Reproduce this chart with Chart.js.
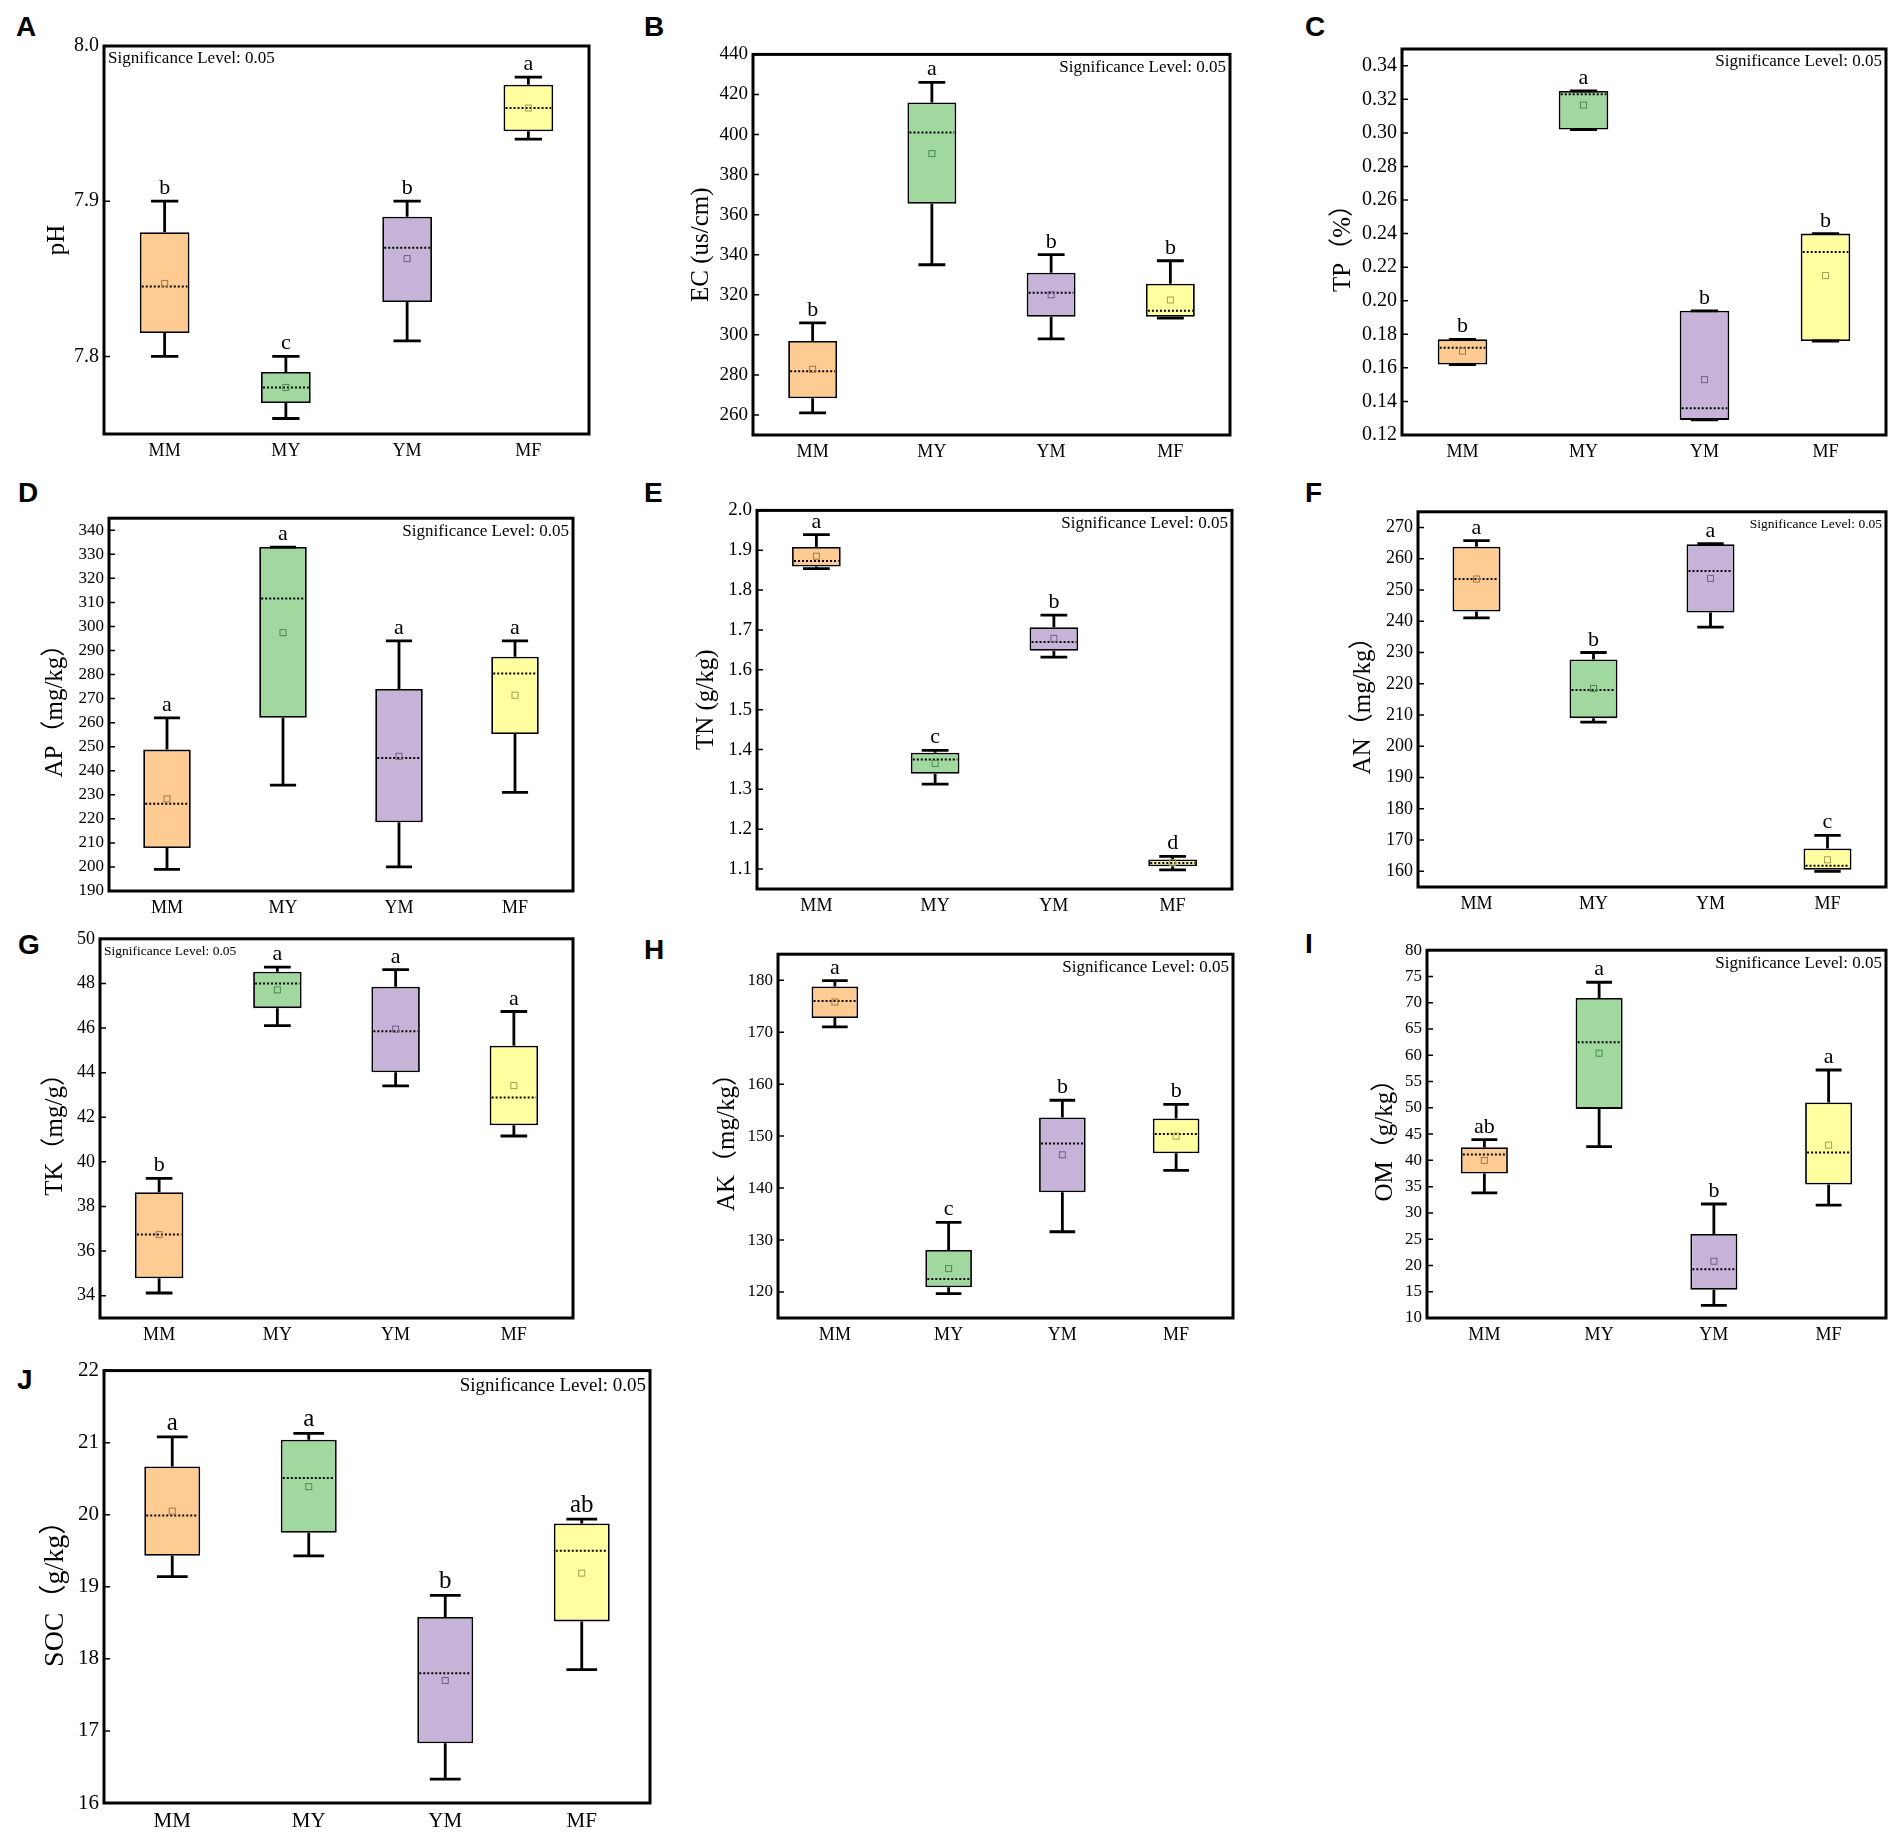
<!DOCTYPE html>
<html>
<head>
<meta charset="utf-8">
<script src="https://cdn.jsdelivr.net/npm/chart.js@4.4.0/dist/chart.umd.min.js"></script>
<style>
  html, body { margin: 0; padding: 0; background: #fff; overflow: hidden; }
  #page { position: relative; width: 1889px; height: 1833px; background: #fff; }
  .panel { position: absolute; }
  .tag { position: absolute; font: bold 28px "Liberation Sans", Arial, sans-serif; line-height: 28px; color: #000; }
</style>
</head>
<body>
<div id="page"></div>
<script>
// groups on the x axis
const groups = ['MM', 'MY', 'YM', 'MF'];

// each row: [whisker low, Q1, median, Q3, whisker high, mean]
const phStats  = [[7.80, 7.815, 7.845, 7.88, 7.90, 7.847], [7.76, 7.77, 7.78, 7.79, 7.80, 7.78], [7.81, 7.835, 7.87, 7.89, 7.90, 7.863], [7.94, 7.945, 7.96, 7.975, 7.98, 7.96]];
const ecStats  = [[261, 268.3, 281.8, 296.9, 306, 282.8], [335, 365.5, 401, 416, 426, 390.5], [298, 309, 321, 331, 340, 320], [308.3, 309, 312, 325.5, 337, 317.4]];
const tpStats  = [[0.162, 0.162, 0.172, 0.177, 0.177, 0.170], [0.302, 0.302, 0.323, 0.325, 0.325, 0.3166], [0.129, 0.129, 0.136, 0.194, 0.194, 0.153], [0.176, 0.176, 0.229, 0.240, 0.240, 0.215]];
const apStats  = [[199, 207.9, 226.3, 248.8, 262, 228.3], [234, 262, 311.6, 333, 333, 297.4], [200, 218.6, 245.3, 274, 294, 246], [231, 255.3, 280.4, 287.4, 294, 271.4]];
const tnStats  = [[1.854, 1.859, 1.873, 1.908, 1.939, 1.885], [1.313, 1.339, 1.375, 1.392, 1.398, 1.365], [1.632, 1.648, 1.670, 1.707, 1.737, 1.679], [1.098, 1.107, 1.115, 1.124, 1.132, 1.116]];
const anStats  = [[241.1, 243.1, 253.5, 263.8, 265.8, 253.5], [207.7, 209, 218, 227.8, 230, 218.5], [238.1, 242.8, 256.1, 264.6, 264.8, 253.7], [160, 160.5, 161.8, 167.3, 171.5, 163.7]];
const tkStats  = [[34.12, 34.78, 36.74, 38.64, 39.26, 36.74], [46.11, 46.89, 48.0, 48.52, 48.73, 47.71], [43.41, 44.02, 45.86, 47.85, 48.62, 45.95], [41.16, 41.64, 42.89, 45.21, 46.74, 43.42]];
const akStats  = [[171.0, 172.7, 176.0, 178.8, 179.9, 175.8], [119.7, 120.9, 122.5, 128.1, 133.4, 124.5], [131.6, 139.2, 148.6, 153.6, 156.9, 146.4], [143.4, 146.7, 150.4, 153.4, 156.1, 150.0]];
const omStats  = [[33.8, 37.5, 41.1, 42.5, 43.95, 40.0], [42.6, 49.8, 62.5, 70.9, 73.9, 60.4], [12.4, 15.4, 19.3, 26.0, 31.7, 20.8], [31.5, 35.4, 41.5, 51.0, 57.2, 42.9]];
const socStats = [[19.14, 19.43, 19.99, 20.67, 21.08, 20.05], [19.43, 19.75, 20.51, 21.04, 21.13, 20.39], [16.33, 16.83, 17.80, 18.58, 18.88, 17.70], [17.85, 18.52, 19.50, 19.88, 19.94, 19.19]];

// significance letters
const phLetters  = ['b', 'c', 'b', 'a'];
const ecLetters  = ['b', 'a', 'b', 'b'];
const tpLetters  = ['b', 'a', 'b', 'b'];
const apLetters  = ['a', 'a', 'a', 'a'];
const tnLetters  = ['a', 'c', 'b', 'd'];
const anLetters  = ['a', 'b', 'a', 'c'];
const tkLetters  = ['b', 'a', 'a', 'a'];
const akLetters  = ['a', 'c', 'b', 'b'];
const omLetters  = ['ab', 'a', 'b', 'a'];
const socLetters = ['a', 'a', 'b', 'ab'];

// y tick labels
const phTicks  = [7.8, 7.9, 8.0];
const ecTicks  = [260, 280, 300, 320, 340, 360, 380, 400, 420, 440];
const tpTicks  = [0.12, 0.14, 0.16, 0.18, 0.20, 0.22, 0.24, 0.26, 0.28, 0.30, 0.32, 0.34];
const apTicks  = [190, 200, 210, 220, 230, 240, 250, 260, 270, 280, 290, 300, 310, 320, 330, 340];
const tnTicks  = [1.1, 1.2, 1.3, 1.4, 1.5, 1.6, 1.7, 1.8, 1.9, 2.0];
const anTicks  = [160, 170, 180, 190, 200, 210, 220, 230, 240, 250, 260, 270];
const tkTicks  = [34, 36, 38, 40, 42, 44, 46, 48, 50];
const akTicks  = [120, 130, 140, 150, 160, 170, 180];
const omTicks  = [10, 15, 20, 25, 30, 35, 40, 45, 50, 55, 60, 65, 70, 75, 80];
const socTicks = [16, 17, 18, 19, 20, 21, 22];

const boxFill = ['#FECC93', '#A0D8A0', '#C5B4D8', '#FFFFA0'];
const meanEdge = ['#a0764a', '#4a8a4a', '#6e5f88', '#a0a050'];
const SERIF = '"Liberation Serif", "Times New Roman", "Noto Sans CJK SC", serif';

// frame = [left, top, right, bottom] of the plot box in page pixels
const panels = [
  { tag: 'A', tagAt: [16, 13], title: 'pH', stats: phStats, letters: phLetters, ticks: phTicks, min: 7.75, max: 8.0, dec: 1,
    frame: [104, 43, 589, 434], titleGap: 47, sig: 'left', sigSize: 17, tickSize: 20 },
  { tag: 'B', tagAt: [644, 13], title: 'EC (us/cm)', stats: ecStats, letters: ecLetters, ticks: ecTicks, min: 250, max: 440, dec: 0,
    frame: [753, 52, 1230, 435], titleGap: 52, sig: 'right', sigSize: 17, tickSize: 19 },
  { tag: 'C', tagAt: [1305, 13], title: 'TP（%）', stats: tpStats, letters: tpLetters, ticks: tpTicks, min: 0.12, max: 0.35, dec: 2,
    frame: [1402, 46, 1886, 435], titleGap: 59, sig: 'right', sigSize: 17, tickSize: 20 },
  { tag: 'D', tagAt: [18, 479], title: 'AP（mg/kg）', stats: apStats, letters: apLetters, ticks: apTicks, min: 190, max: 345, dec: 0,
    frame: [109, 517, 573, 891], titleGap: 54, sig: 'right', sigSize: 17, tickSize: 17 },
  { tag: 'E', tagAt: [644, 479], title: 'TN (g/kg)', stats: tnStats, letters: tnLetters, ticks: tnTicks, min: 1.05, max: 2.0, dec: 1,
    frame: [757, 508, 1232, 889], titleGap: 51, sig: 'right', sigSize: 17, tickSize: 19 },
  { tag: 'F', tagAt: [1305, 479], title: 'AN（mg/kg）', stats: anStats, letters: anLetters, ticks: anTicks, min: 155, max: 275, dec: 0,
    frame: [1418, 510, 1886, 887], titleGap: 55, sig: 'right', sigSize: 13.5, tickSize: 18 },
  { tag: 'G', tagAt: [18, 931], title: 'TK（mg/g）', stats: tkStats, letters: tkLetters, ticks: tkTicks, min: 33, max: 50, dec: 0,
    frame: [100, 937, 573, 1318], titleGap: 45, sig: 'left', sigSize: 13.5, tickSize: 18 },
  { tag: 'H', tagAt: [644, 936], title: 'AK（mg/kg）', stats: akStats, letters: akLetters, ticks: akTicks, min: 115, max: 185, dec: 0,
    frame: [778, 953, 1233, 1318], titleGap: 51, sig: 'right', sigSize: 17, tickSize: 17 },
  { tag: 'I', tagAt: [1305, 930], title: 'OM（g/kg）', stats: omStats, letters: omLetters, ticks: omTicks, min: 10, max: 80, dec: 0,
    frame: [1427, 949, 1886, 1318], titleGap: 42, sig: 'right', sigSize: 17, tickSize: 17 },
  { tag: 'J', tagAt: [17, 1366], title: 'SOC（g/kg）', stats: socStats, letters: socLetters, ticks: socTicks, min: 16, max: 22, dec: 0,
    frame: [104, 1367, 650, 1803], titleGap: 48, sig: 'right', sigSize: 19, tickSize: 21,
    labelSize: 21, titleSize: 28, letterSize: 25, xHeight: 30, sigDrop: 15 }
];

function boxPlugin(p) {
  return {
    id: 'boxes' + p.tag,
    afterDatasetsDraw(chart) {
      const ctx = chart.ctx;
      const y = chart.scales.y;
      const bars = chart.getDatasetMeta(0).data;
      ctx.save();
      p.stats.forEach((row, i) => {
        const bar = bars[i];
        const cx = bar.x;
        const half = bar.width / 2;
        const cap = bar.width * 0.55 / 2;
        const pLow = y.getPixelForValue(row[0]);
        const pQ1 = y.getPixelForValue(row[1]);
        const pMed = y.getPixelForValue(row[2]);
        const pQ3 = y.getPixelForValue(row[3]);
        const pHigh = y.getPixelForValue(row[4]);
        const pMean = y.getPixelForValue(row[5]);

        // whiskers and caps
        ctx.strokeStyle = '#000';
        ctx.lineWidth = 2.8;
        ctx.setLineDash([]);
        ctx.beginPath();
        ctx.moveTo(cx, pQ3); ctx.lineTo(cx, pHigh);
        ctx.moveTo(cx, pQ1); ctx.lineTo(cx, pLow);
        ctx.moveTo(cx - cap, pHigh); ctx.lineTo(cx + cap, pHigh);
        ctx.moveTo(cx - cap, pLow); ctx.lineTo(cx + cap, pLow);
        ctx.stroke();

        // dotted median
        ctx.lineWidth = 2;
        ctx.setLineDash([2, 2]);
        ctx.beginPath();
        ctx.moveTo(cx - half + 2, pMed); ctx.lineTo(cx + half - 2, pMed);
        ctx.stroke();
        ctx.setLineDash([]);

        // mean marker
        ctx.lineWidth = 1;
        ctx.strokeStyle = meanEdge[i];
        ctx.strokeRect(cx - 3, pMean - 3, 6, 6);

        // group letter
        ctx.fillStyle = '#000';
        ctx.font = (p.letterSize || 22) + 'px ' + SERIF;
        ctx.textAlign = 'center';
        ctx.textBaseline = 'alphabetic';
        ctx.fillText(p.letters[i], cx, pHigh - 7);
      });
      ctx.restore();
    },
    afterDraw(chart) {
      const ctx = chart.ctx;
      const a = chart.chartArea;
      const y = chart.scales.y;
      ctx.save();
      // inward ticks
      ctx.strokeStyle = '#000';
      ctx.lineWidth = 1.5;
      ctx.beginPath();
      y.ticks.forEach(t => {
        const py = y.getPixelForValue(t.value);
        ctx.moveTo(a.left, py); ctx.lineTo(a.left + 6, py);
      });
      ctx.stroke();
      // frame
      ctx.lineWidth = 3;
      ctx.strokeRect(a.left, a.top, a.right - a.left, a.bottom - a.top);
      // significance note
      ctx.fillStyle = '#000';
      ctx.font = p.sigSize + 'px ' + SERIF;
      ctx.textBaseline = 'middle';
      const sy = a.top + (p.sigDrop || 13);
      if (p.sig === 'left') {
        ctx.textAlign = 'left';
        ctx.fillText('Significance Level: 0.05', a.left + 4, sy);
      } else {
        ctx.textAlign = 'right';
        ctx.fillText('Significance Level: 0.05', a.right - 4, sy);
      }
      ctx.restore();
    }
  };
}

const page = document.getElementById('page');
const padTop = 14;
const padRight = 3;

panels.forEach(p => {
  const [L, T, R, B] = p.frame;
  const titleSize = p.titleSize || 25;
  const labelSize = p.labelSize || 18;
  const xh = p.xHeight || 40;
  const yw = Math.round(p.titleGap + titleSize * 0.6);
  const w = yw + (R - L) + padRight;
  const h = padTop + (B - T) + xh;

  const tag = document.createElement('div');
  tag.className = 'tag';
  tag.style.left = p.tagAt[0] + 'px';
  tag.style.top = p.tagAt[1] + 'px';
  tag.textContent = p.tag;
  page.appendChild(tag);

  const holder = document.createElement('div');
  holder.className = 'panel';
  holder.style.left = (L - yw) + 'px';
  holder.style.top = (T - padTop) + 'px';
  const canvas = document.createElement('canvas');
  canvas.width = w;
  canvas.height = h;
  canvas.style.width = w + 'px';
  canvas.style.height = h + 'px';
  holder.appendChild(canvas);
  page.appendChild(holder);

  new Chart(canvas, {
    type: 'bar',
    data: {
      labels: groups,
      datasets: [{
        data: p.stats.map(r => [r[1], r[3]]),
        backgroundColor: boxFill,
        borderColor: '#000',
        borderWidth: 1.8,
        borderSkipped: false,
        barPercentage: 0.41,
        categoryPercentage: 1
      }]
    },
    options: {
      responsive: false,
      animation: false,
      devicePixelRatio: 1,
      layout: { padding: { top: padTop, right: padRight, left: 0, bottom: 0 } },
      plugins: { legend: { display: false }, tooltip: { enabled: false } },
      scales: {
        x: {
          grid: { display: false, drawTicks: false },
          border: { display: false },
          ticks: { padding: 6, color: '#000', font: { family: SERIF, size: labelSize } },
          afterFit: s => { s.height = xh; }
        },
        y: {
          min: p.min,
          max: p.max,
          grid: { display: false, drawTicks: false },
          border: { display: false },
          afterBuildTicks: s => { s.ticks = p.ticks.map(v => ({ value: v })); },
          ticks: {
            padding: 5,
            color: '#000',
            font: { family: SERIF, size: p.tickSize },
            callback: v => Number(v).toFixed(p.dec)
          },
          title: { display: true, text: p.title, color: '#000', padding: 0, font: { family: SERIF, size: titleSize } },
          afterFit: s => { s.width = yw; }
        }
      }
    },
    plugins: [boxPlugin(p)]
  });
});
</script>
</body>
</html>
